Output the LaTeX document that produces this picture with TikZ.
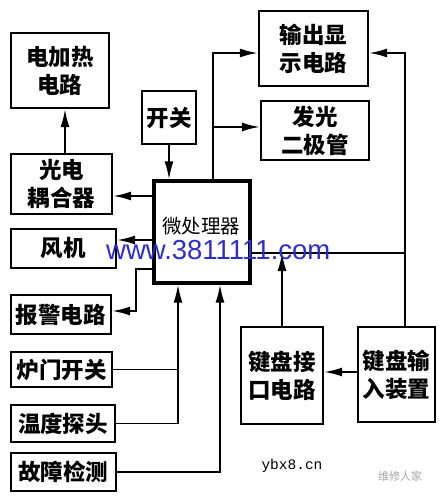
\documentclass[tikz,border=0pt]{standalone}
\usepackage{fontspec}
\newfontfamily\cjk{Noto Sans CJK SC}
\newfontfamily\wmfont{Liberation Sans}
\newfontfamily\monofont{Liberation Mono}
\usetikzlibrary{arrows.meta}
\definecolor{wmblue}{RGB}{45,45,205}
\begin{document}
\begin{tikzpicture}[x=1pt,y=-1pt,
  blk/.style={draw,line width=2.4pt,inner sep=0pt,align=center,
    font=\cjk\bfseries\fontsize{22.5}{28}\selectfont},
  conn/.style={line width=1.8pt},
  arr/.style={conn,-{Latex[length=18pt,width=9pt]}}]
\useasboundingbox (0,0) rectangle (439,496);
\fill[white] (0,0) rectangle (439,496);
% boxes
\node[blk,minimum width=98pt,minimum height=75pt] (heat) at (60,70.5) {电加热\\电路};
\node[blk,minimum width=54pt,minimum height=53pt] (sw) at (169,117.5) {开关};
\node[blk,minimum width=101pt,minimum height=60pt] (opto) at (61.5,184) {光电\\耦合器};
\node[blk,line width=3.2pt,minimum width=96pt,minimum height=102pt] (cpu) at (202,232) {};
\node[font=\cjk\fontsize{19.5}{23}\selectfont,anchor=center,inner sep=0pt] (cputxt) at (201,226) {微处理器};
\node[blk,minimum width=105pt,minimum height=39pt] (fan) at (63.5,248.5) {风机};
\node[blk,minimum width=100pt,minimum height=39pt] (alarm) at (61,314.5) {报警电路};
\node[blk,minimum width=101pt,minimum height=35pt] (door) at (61.5,369.5) {炉门开关};
\node[blk,minimum width=104pt,minimum height=37pt] (temp) at (63,423.5) {温度探头};
\node[blk,minimum width=105pt,minimum height=38pt] (fault) at (63.5,472) {故障检测};
\node[blk,minimum width=109pt,minimum height=75pt] (disp) at (313.5,48.5) {输出显\\示电路};
\node[blk,minimum width=108pt,minimum height=59pt] (led) at (315,130.5) {发光\\二极管};
\node[blk,minimum width=82pt,minimum height=97pt] (kif) at (282,375.5) {键盘接\\口电路};
\node[blk,minimum width=77pt,minimum height=95pt] (kin) at (396.5,374.5) {键盘输\\入装置};
% helper coordinates
\coordinate (xA) at (65,0);
\coordinate (xB) at (136,0);
\coordinate (xC) at (178,0);
\coordinate (xD) at (220,0);
\coordinate (xE) at (213,0);
\coordinate (xF) at (405,0);
\coordinate (yA) at (0,196);
\coordinate (yB) at (0,240);
\coordinate (yC) at (0,269);
\coordinate (yD) at (0,311);
\coordinate (yE) at (0,53);
\coordinate (yF) at (0,127);
\coordinate (yG) at (0,253);
\coordinate (yH) at (0,372);
\coordinate (jB1) at (xB |- yC);
\coordinate (jB2) at (xB |- yD);
\coordinate (jF) at (xF |- yG);
% connectors
\draw[arr] (opto.north -| xA) -- (heat.south -| xA);
\draw[arr] (sw.south) -- (sw.south |- cpu.north);
\draw[arr] (cpu.west |- yA) -- (opto.east |- yA);
\draw[arr] (cpu.west |- yB) -- (fan.east |- yB);
\draw[arr] (cpu.west |- yC) -- (jB1) -- (jB2) -- (alarm.east |- yD);
\draw[conn] (door.east) -- (door.east -| xC);
\draw[arr] (temp.east) -| (cpu.south -| xC);
\draw[arr] (fault.east) -| (cpu.south -| xD);
\draw[arr] (cpu.north -| xE) |- (disp.west |- yE);
\draw[arr] (xE |- yF) -- (led.west |- yF);
\draw[conn] (cpu.east |- yG) -- (jF);
\draw[arr] (kin.north -| xF) |- (disp.east |- yE);
\draw[arr] (kif.north) -- (kif.north |- yG);
\draw[arr] (kin.west |- yH) -- (kif.east |- yH);
% watermarks
\node[font=\wmfont\fontsize{27.5}{28}\selectfont,text=wmblue,anchor=base west,inner sep=0pt] (wm) at (106,259) {www.3811111.com};
\node[font=\monofont\fontsize{14.5}{15}\selectfont,anchor=center,inner sep=0pt] (yb) at (292,466) {ybx8.cn};
\node[font=\cjk\fontsize{11}{12}\selectfont,text=black!35,anchor=center,inner sep=0pt] (wx) at (400,476) {维修人家};
\end{tikzpicture}
\end{document}
